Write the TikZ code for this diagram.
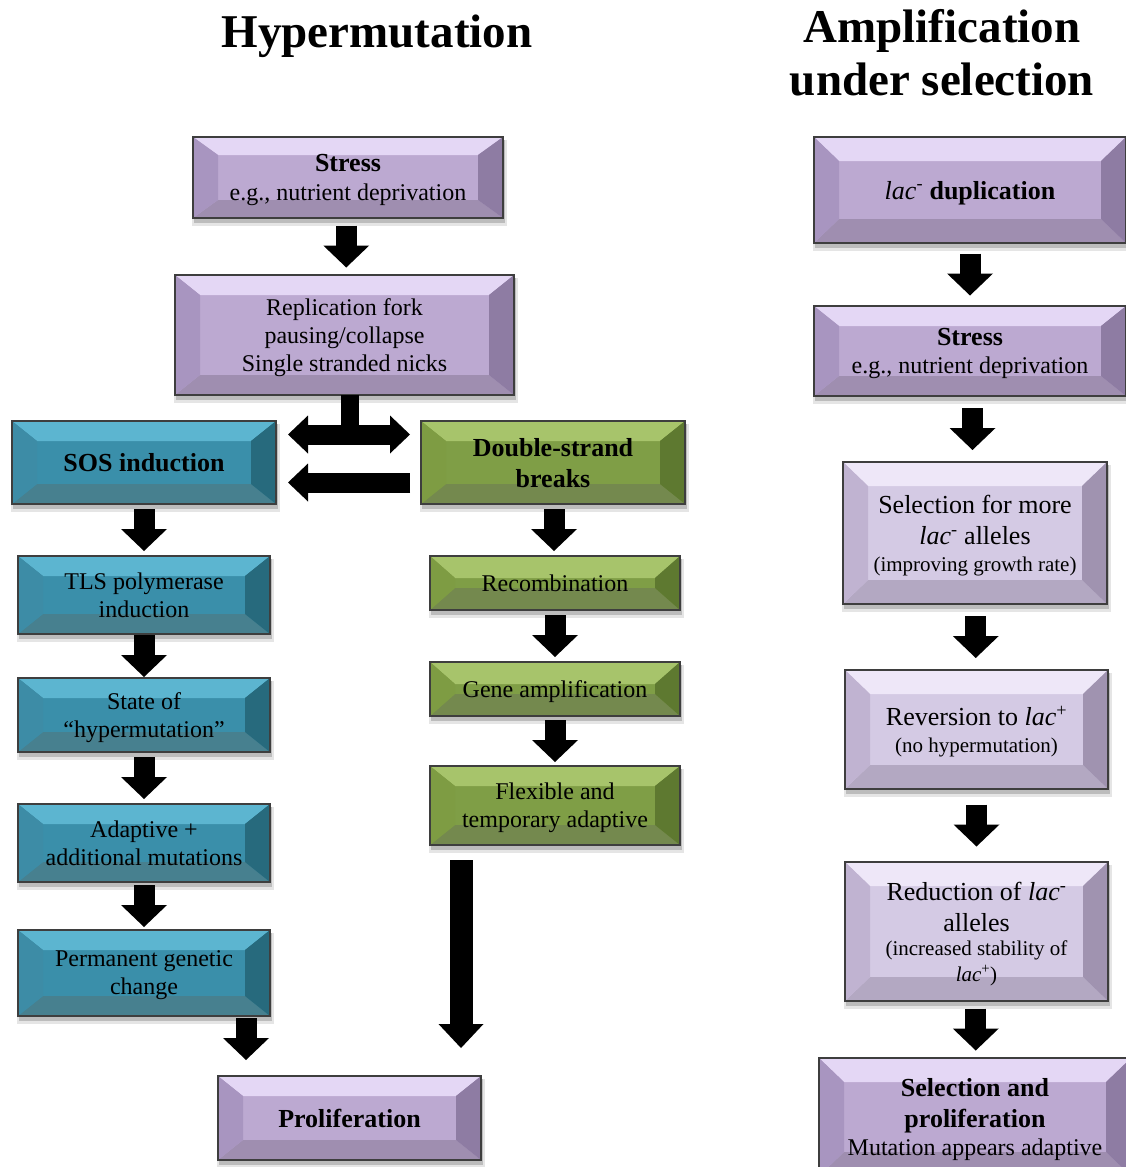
\documentclass[tikz,border=0pt]{standalone}
\usepackage{fontspec}
\setmainfont{Liberation Serif}
\usetikzlibrary{arrows.meta,calc,backgrounds}

\definecolor{pTop}{HTML}{E4D7F5}
\definecolor{pLeft}{HTML}{A895C0}
\definecolor{pMid}{HTML}{BCA9D1}
\definecolor{pRight}{HTML}{8E7CA3}
\definecolor{pBot}{HTML}{9F8EB0}
\definecolor{lTop}{HTML}{EEE7F8}
\definecolor{lLeft}{HTML}{C0B3D1}
\definecolor{lMid}{HTML}{D4CAE4}
\definecolor{lRight}{HTML}{A093B0}
\definecolor{lBot}{HTML}{B3A8C2}
\definecolor{tTop}{HTML}{5CB5D0}
\definecolor{tLeft}{HTML}{3D8CA6}
\definecolor{tMid}{HTML}{3A8FAA}
\definecolor{tRight}{HTML}{276A7D}
\definecolor{tBot}{HTML}{47808F}
\definecolor{gTop}{HTML}{A7C46B}
\definecolor{gLeft}{HTML}{7E9C43}
\definecolor{gMid}{HTML}{7F9E46}
\definecolor{gRight}{HTML}{5E7930}
\definecolor{gBot}{HTML}{74894E}
\definecolor{bord}{HTML}{3E3E3E}

\newcommand\fzA{\fontsize{24}{28}\selectfont}
\newcommand\fzB{\fontsize{26}{31}\selectfont}
\newcommand\fzC{\fontsize{21}{26}\selectfont}
\newcommand\fzD{\fontsize{24}{28}\selectfont}
\newcommand\fzT{\fontsize{47}{53}\selectfont\bfseries}

\def\bevx{25pt}\def\bevy{20pt}

\tikzset{
  bevy/.code={\def\bevy{#1}},
  bevel/.style n args={5}{fill=#3, draw=bord, line width=1.8pt, inner sep=0pt,
    outer sep=0pt, align=center, font=\fzA, text=black, text depth=0pt,
    path picture={
      \fill[#1] (path picture bounding box.north west) -- (path picture bounding box.north east)
        -- ([xshift=-\bevx,yshift=-\bevy]path picture bounding box.north east)
        -- ([xshift=\bevx,yshift=-\bevy]path picture bounding box.north west) -- cycle;
      \fill[#5] (path picture bounding box.south west) -- (path picture bounding box.south east)
        -- ([xshift=-\bevx,yshift=\bevy]path picture bounding box.south east)
        -- ([xshift=\bevx,yshift=\bevy]path picture bounding box.south west) -- cycle;
      \fill[#2] (path picture bounding box.north west)
        -- ([xshift=\bevx,yshift=-\bevy]path picture bounding box.north west)
        -- ([xshift=\bevx,yshift=\bevy]path picture bounding box.south west)
        -- (path picture bounding box.south west) -- cycle;
      \fill[#4] (path picture bounding box.north east)
        -- ([xshift=-\bevx,yshift=-\bevy]path picture bounding box.north east)
        -- ([xshift=-\bevx,yshift=\bevy]path picture bounding box.south east)
        -- (path picture bounding box.south east) -- cycle;
    }},
  purplebox/.style={bevel={pTop}{pLeft}{pMid}{pRight}{pBot}},
  lightbox/.style={bevel={lTop}{lLeft}{lMid}{lRight}{lBot}},
  tealbox/.style={bevel={tTop}{tLeft}{tMid}{tRight}{tBot}},
  greenbox/.style={bevel={gTop}{gLeft}{gMid}{gRight}{gBot}},
  downarr/.style={draw=black, line width=21pt, -{Triangle[length=22pt,width=46pt,line width=0pt]}},
  bigarr/.style={draw=black, line width=23pt, -{Triangle[length=24pt,width=45pt,line width=0pt]}},
  sidearr/.style={draw=black, line width=20pt, -{Triangle[length=20pt,width=38pt,line width=0pt]}},
  dblarr/.style={draw=black, line width=20pt, {Triangle[length=20pt,width=38pt,line width=0pt]}-{Triangle[length=20pt,width=38pt,line width=0pt]}},
  stemline/.style={draw=black, line width=18pt},
  title/.style={font=\fzT, anchor=base, inner sep=0pt},
}

\newcommand\flowarr[3]{%
  \path ($(#1.south)!.5!(#2.north)$) coordinate (#3);
  \draw[downarr] ([yshift=21pt]#3) -- ([yshift=-21pt]#3);}

\begin{document}
\begin{tikzpicture}[x=1pt,y=-1pt]
\useasboundingbox (0,0) rectangle (1125,1167);

% titles
\node[title] (t1) at (377,47) {Hypermutation};
\node[title] (t2a) at (942,42) {Amplification};
\node[title] (t2b) at (942,95) {under selection};

% left part
\node[purplebox, minimum width=310pt, minimum height=81pt, bevy=18pt] (stressA) at (348,177.5)
  {{\fzB\bfseries Stress}\\[1pt]e.g., nutrient deprivation};
\node[purplebox, minimum width=339pt, minimum height=120pt] (rep) at (344.5,335)
  {Replication fork\\pausing/collapse\\Single stranded nicks};
\node[tealbox, minimum width=264pt, minimum height=83pt] (sos) at (144,462.5)
  {\fzB\bfseries SOS induction};
\node[greenbox, minimum width=264pt, minimum height=83pt] (dsb) at (553,462.5)
  {\fzB\bfseries Double-strand\\[3pt]\fzB\bfseries breaks};
\node[tealbox, minimum width=252pt, minimum height=78pt] (tls) at (144,595)
  {TLS polymerase\\induction};
\node[tealbox, minimum width=252pt, minimum height=74pt] (state) at (144,715)
  {State of\\“hypermutation”};
\node[tealbox, minimum width=252pt, minimum height=78pt] (adapt) at (144,843)
  {Adaptive +\\additional mutations};
\node[tealbox, minimum width=252pt, minimum height=86pt] (perm) at (144,973)
  {Permanent genetic\\change};
\node[purplebox, minimum width=263pt, minimum height=84pt] (prolif) at (349.5,1118)
  {\fzB\bfseries Proliferation};
\node[greenbox, minimum width=250pt, minimum height=54pt, bevy=22pt] (recomb) at (555,583)
  {Recombination};
\node[greenbox, minimum width=250pt, minimum height=54pt, bevy=22pt] (gene) at (555,689)
  {Gene amplification};
\node[greenbox, minimum width=250pt, minimum height=79pt] (flex) at (555,805.5)
  {Flexible and\\temporary adaptive};

% right part
\node[purplebox, minimum width=312pt, minimum height=106pt, bevy=24pt] (lacdup) at (970,190)
  {\fzB\textit{lac}\textsuperscript{-} \textbf{duplication}};
\node[purplebox, minimum width=312pt, minimum height=90pt] (stressB) at (970,351)
  {{\fzB\bfseries Stress}\\e.g., nutrient deprivation};
\node[lightbox, minimum width=264pt, minimum height=142pt, bevy=24pt] (selmore) at (975,533)
  {{\fzB Selection for more}\\[3pt]{\fzB\textit{lac}\textsuperscript{-} alleles}\\[-1pt]{\fzC (improving growth rate)}};
\node[lightbox, minimum width=263pt, minimum height=119pt, bevy=24pt] (rev) at (976.5,729.5)
  {{\fzB Reversion to \textit{lac}\textsuperscript{+}}\\[-1pt]{\fzC (no hypermutation)}};
\node[lightbox, minimum width=263pt, minimum height=139pt, bevy=24pt] (red) at (976.5,931.5)
  {{\fzB Reduction of \textit{lac}\textsuperscript{-}}\\[3pt]{\fzB alleles}\\[-4pt]{\fzC (increased stability of}\\[-2pt]{\fzC\textit{lac}\textsuperscript{+})}};
\node[purplebox, minimum width=312pt, minimum height=118pt, bevy=24pt] (selprol) at (975,1117)
  {{\fzB\bfseries Selection and}\\[3pt]{\fzB\bfseries proliferation}\\{\fzD Mutation appears adaptive}};

% shadows
\begin{scope}[on background layer]
  \foreach \n in {stressA,rep,sos,dsb,tls,state,adapt,perm,prolif,recomb,gene,flex,lacdup,stressB,selmore,rev,red,selprol}{
    \fill[black,opacity=.10] ([xshift=-1pt,yshift=-8pt]\n.south west) rectangle ([xshift=4pt,yshift=-3pt]\n.north east);
    \fill[black,opacity=.18] ([xshift=1pt,yshift=-5pt]\n.south west) rectangle ([xshift=2pt,yshift=-3pt]\n.north east);
  }
\end{scope}

% connectors: left part
\flowarr{stressA}{rep}{m1}
\coordinate (dl) at ([xshift=12pt,yshift=28pt]sos.east);
\coordinate (dr) at ([xshift=-11pt,yshift=28pt]dsb.west);
\draw[stemline] ([xshift=5pt]rep.south) -- ([xshift=5pt]rep.south |- dl);
\draw[dblarr] (dl) -- (dr);
\draw[sidearr] ([xshift=-11pt,yshift=-20pt]dsb.west) -- ([xshift=12pt,yshift=-20pt]sos.east);
\flowarr{sos}{tls}{m2}
\flowarr{tls}{state}{m3}
\flowarr{state}{adapt}{m4}
\flowarr{adapt}{perm}{m5}
\draw[downarr] ([xshift=-24pt,yshift=-2pt]perm.south east) -- ([xshift=28pt,yshift=16pt]prolif.north west);
\flowarr{dsb}{recomb}{m6}
\flowarr{recomb}{gene}{m7}
\flowarr{gene}{flex}{m8}
\draw[bigarr] ([xshift=31pt,yshift=-15pt]flex.south west) -- ([xshift=-20pt,yshift=28pt]prolif.north east);

% connectors: right part
\flowarr{lacdup}{stressB}{m9}
\flowarr{stressB}{selmore}{m10}
\flowarr{selmore}{rev}{m11}
\flowarr{rev}{red}{m12}
\flowarr{red}{selprol}{m13}
\end{tikzpicture}
\end{document}
